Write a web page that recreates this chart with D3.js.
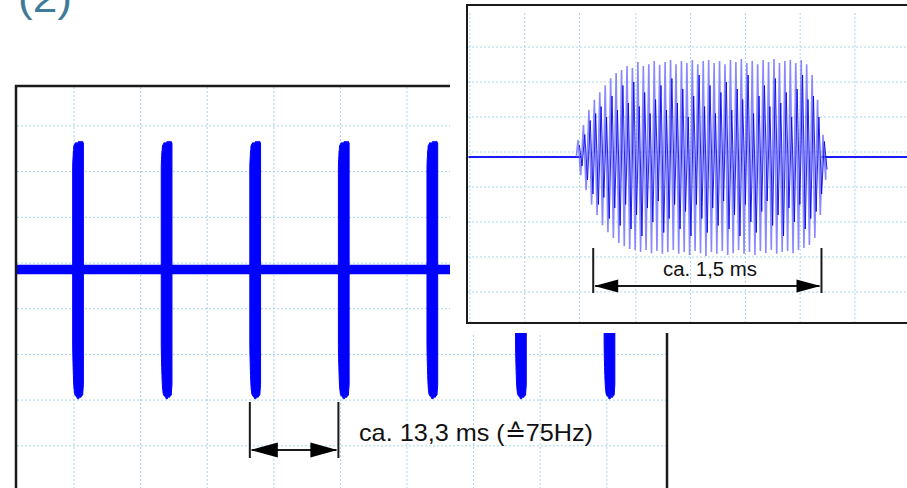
<!DOCTYPE html>
<html>
<head>
<meta charset="utf-8">
<script src="https://cdn.jsdelivr.net/npm/d3@7"></script>
<style>
  html, body { margin: 0; padding: 0; background: #fff; }
  svg { display: block; }
</style>
</head>
<body>
<svg id="chart" width="907" height="488"></svg>
<script>
// ---------------- DATA ----------------
// Main trace: burst start times (ms), 10 ms / division
const burstStarts = [9.8, 23.1, 36.4, 49.7, 63.0, 76.3, 89.6];
const mainGridT = [10, 20, 30, 40, 50, 60, 70, 80, 90];
const gridV = [3, 2, 1, 0, -1, -2, -3, -4];
const baselineV = -0.14;              // trace rest level (divisions)
const period = { from: 36.4, to: 49.7, label: "ca. 13,3 ms (\u225975Hz)" };

// One burst: peak / trough per carrier cycle (divisions), burst length in ms
const burstLength = 1.61;
const peakV = [0.34, 0.77, 1.2, 1.49, 1.71, 1.91, 2.11, 2.26, 2.34, 2.46, 2.4, 2.57, 2.46, 2.51, 2.6, 2.49,
  2.57, 2.63, 2.51, 2.6, 2.54, 2.63, 2.51, 2.6, 2.63, 2.54, 2.6, 2.51, 2.63, 2.57, 2.66, 2.54, 2.6, 2.51,
  2.63, 2.57, 2.66, 2.54, 2.6, 2.63, 2.54, 2.63, 2.51, 2.2, 1.49, 0.49];
const troughV = [-0.66, -1.09, -1.51, -1.8, -2.09, -2.29, -2.46, -2.6, -2.69, -2.77, -2.8, -2.86, -2.8, -2.89,
  -2.83, -2.91, -2.86, -2.8, -2.91, -2.86, -2.94, -2.83, -2.89, -2.97, -2.86, -2.91, -2.83, -2.94, -2.89, -2.8,
  -2.91, -2.86, -2.94, -2.83, -2.89, -2.8, -2.91, -2.86, -2.83, -2.89, -2.8, -2.74, -2.66, -2.46, -1.8, -0.8];
// darker inner (aliasing) pattern
const innerPeakV = [0.2, 0.5, 0.9, 1.1, 1.3, 1.0, 1.6, 1.2, 1.9, 1.4, 2.0, 1.3, 1.7, 1.1, 1.5, 1.9, 1.2, 2.1,
  1.4, 1.8, 1.0, 1.6, 2.2, 1.3, 1.9, 1.1, 1.7, 2.0, 1.2, 1.8, 1.5, 2.2, 1.1, 1.6, 1.9, 1.3, 2.1, 1.4, 1.7,
  1.0, 1.8, 2.2, 1.5, 1.6, 1.0, 0.3];
const innerTroughV = [-0.4, -0.8, -1.2, -1.5, -1.3, -1.9, -1.6, -2.1, -1.5, -2.2, -1.8, -2.4, -1.6, -2.0,
  -1.4, -2.3, -1.9, -1.5, -2.2, -1.7, -2.4, -1.5, -1.9, -2.3, -1.6, -2.1, -1.4, -2.2, -1.8, -2.4, -1.5,
  -2.0, -2.3, -1.7, -1.4, -2.1, -1.8, -2.4, -1.6, -2.0, -1.5, -2.2, -1.9, -1.7, -1.2, -0.5];

// Inset (zoomed burst): grid times in ms and dimension
const insetGridT = [-0.71, -0.35, 0.01, 0.38, 0.74, 1.1, 1.46, 1.82, 2.18];
const duration = { from: 0.1, to: 1.6, label: "ca. 1,5 ms" };
const figLabel = "(2)";

// ---------------- DRAWING ----------------
const svg = d3.select("#chart");
const gridColor = "#a6d6ea";
const traceBlue = "#0000ff";
const ink = "#1a1a1a";

// Scales
const xMain = d3.scaleLinear().domain([0, 100]).range([7.4, 673.4]);
const yMain = d3.scaleLinear().domain([0, 1]).range([263, 217.3]);
const xIn = d3.scaleLinear().domain([0, burstLength]).range([578, 823]);
const yIn = d3.scaleLinear().domain([0, 1]).range([152, 117]);

const dt = burstLength / (peakV.length - 1);

// ---- main panel ----
const main = svg.append("g");
main.selectAll("line.vg").data(mainGridT).join("line")
  .attr("x1", d => xMain(d)).attr("x2", d => xMain(d))
  .attr("y1", 87).attr("y2", 488)
  .attr("stroke", gridColor).attr("stroke-width", 1).attr("stroke-dasharray", "2,2");
main.selectAll("line.hg").data(gridV).join("line")
  .attr("x1", 17).attr("x2", 666)
  .attr("y1", d => yMain(d)).attr("y2", d => yMain(d))
  .attr("stroke", gridColor).attr("stroke-width", 1).attr("stroke-dasharray", "2,2");

// baseline
main.append("line")
  .attr("x1", xMain(1.4)).attr("x2", xMain(99))
  .attr("y1", yMain(baselineV)).attr("y2", yMain(baselineV))
  .attr("stroke", traceBlue).attr("stroke-width", 9.5);

// bursts: coarse time base -> each screen column shows min/max of the burst samples around it
const colMax = peakV.map((d, i) => d3.max(peakV.slice(Math.max(0, i - 6), i + 7)));
const colMin = troughV.map((d, i) => d3.min(troughV.slice(Math.max(0, i - 3), i + 4)));
const burstArea = (start) => d3.area()
  .x((d, i) => xMain(start + i * dt))
  .y0((d, i) => yMain(colMin[i]))
  .y1((d, i) => yMain(colMax[i]))
  .curve(d3.curveLinear);
burstStarts.forEach(s => {
  main.append("path").datum(peakV).attr("d", burstArea(s))
    .attr("fill", traceBlue).attr("stroke", traceBlue).attr("stroke-width", 1)
    .attr("stroke-linejoin", "round");
});

// border
main.append("rect").attr("x", 16).attr("y", 86).attr("width", 651).attr("height", 460)
  .attr("fill", "none").attr("stroke", ink).attr("stroke-width", 2.5);

// dimension arrow
function dimension(g, x1, x2, yTop, yBot, yArr, len, half) {
  [x1, x2].forEach(x => g.append("line").attr("x1", x).attr("x2", x)
    .attr("y1", yTop).attr("y2", yBot).attr("stroke", ink).attr("stroke-width", 2));
  g.append("line").attr("x1", x1 + 2).attr("x2", x2 - 2).attr("y1", yArr).attr("y2", yArr)
    .attr("stroke", ink).attr("stroke-width", 2);
  g.append("path").attr("d", `M${x1 + 1},${yArr} L${x1 + len},${yArr - half} L${x1 + len},${yArr + half} Z`).attr("fill", "#000");
  g.append("path").attr("d", `M${x2 - 1},${yArr} L${x2 - len},${yArr - half} L${x2 - len},${yArr + half} Z`).attr("fill", "#000");
}
dimension(main, xMain(period.from), xMain(period.to), 402, 458, 450, 28, 7.5);
main.append("text").attr("x", 359).attr("y", 441)
  .attr("font-family", "'Liberation Sans', Arial, sans-serif").attr("font-size", 24)
  .attr("fill", "#111").attr("textLength", 234).attr("lengthAdjust", "spacingAndGlyphs")
  .text(period.label);

// ---- mask behind inset ----
svg.append("rect").attr("x", 450).attr("y", 0).attr("width", 457).attr("height", 333).attr("fill", "#fff");

// ---- inset ----
const inset = svg.append("g");
inset.append("rect").attr("x", 467).attr("y", 5).attr("width", 470).attr("height", 318).attr("fill", "#fff");
inset.selectAll("line.vg").data(insetGridT).join("line")
  .attr("x1", d => xIn(d)).attr("x2", d => xIn(d))
  .attr("y1", 13).attr("y2", 322)
  .attr("stroke", gridColor).attr("stroke-width", 1).attr("stroke-dasharray", "2,2");
inset.selectAll("line.hg").data(gridV).join("line")
  .attr("x1", 468).attr("x2", 907)
  .attr("y1", d => yIn(d)).attr("y2", d => yIn(d))
  .attr("stroke", gridColor).attr("stroke-width", 1).attr("stroke-dasharray", "2,2");

// inset baseline
inset.append("line").attr("x1", xIn(-0.72)).attr("x2", xIn(0.02))
  .attr("y1", yIn(baselineV)).attr("y2", yIn(baselineV))
  .attr("stroke", "#1a1aff").attr("stroke-width", 2);
inset.append("line").attr("x1", xIn(burstLength - 0.01)).attr("x2", xIn(2.2))
  .attr("y1", yIn(baselineV)).attr("y2", yIn(baselineV))
  .attr("stroke", "#1a1aff").attr("stroke-width", 2);

// carrier zigzag (light)
const zig = [];
zig.push([0 - dt * 0.3, baselineV]);
peakV.forEach((p, i) => { zig.push([i * dt, p]); zig.push([i * dt + dt / 2, troughV[i]]); });
zig.push([burstLength + dt * 0.5, baselineV]);
const lineIn = d3.line().x(d => xIn(d[0])).y(d => yIn(d[1]));
inset.append("path").datum(zig).attr("d", lineIn)
  .attr("fill", "none").attr("stroke", "#6a6aff").attr("stroke-opacity", 0.8).attr("stroke-width", 1.6);

// inner darker pattern
const zig2 = [];
innerPeakV.forEach((p, i) => { zig2.push([i * dt + dt * 0.25, p]); zig2.push([i * dt + dt * 0.75, innerTroughV[i]]); });
inset.append("path").datum(zig2).attr("d", lineIn)
  .attr("fill", "none").attr("stroke", "#0000e6").attr("stroke-opacity", 0.85).attr("stroke-width", 1);

// inset border
inset.append("rect").attr("x", 467).attr("y", 5).attr("width", 470).attr("height", 318)
  .attr("fill", "none").attr("stroke", ink).attr("stroke-width", 2);

dimension(inset, xIn(duration.from), xIn(duration.to), 248, 293, 286, 25, 6.5);
inset.append("text").attr("x", 663).attr("y", 276)
  .attr("font-family", "'Liberation Sans', Arial, sans-serif").attr("font-size", 20)
  .attr("fill", "#111").attr("textLength", 94).attr("lengthAdjust", "spacingAndGlyphs")
  .text(duration.label);

// figure label (cut at the top edge, as in the reference)
svg.append("text").attr("x", 18).attr("y", 12)
  .attr("font-family", "'Liberation Sans', Arial, sans-serif").attr("font-size", 40)
  .attr("fill", "#3f7a99").attr("textLength", 54).attr("lengthAdjust", "spacingAndGlyphs")
  .text(figLabel);
</script>
</body>
</html>
